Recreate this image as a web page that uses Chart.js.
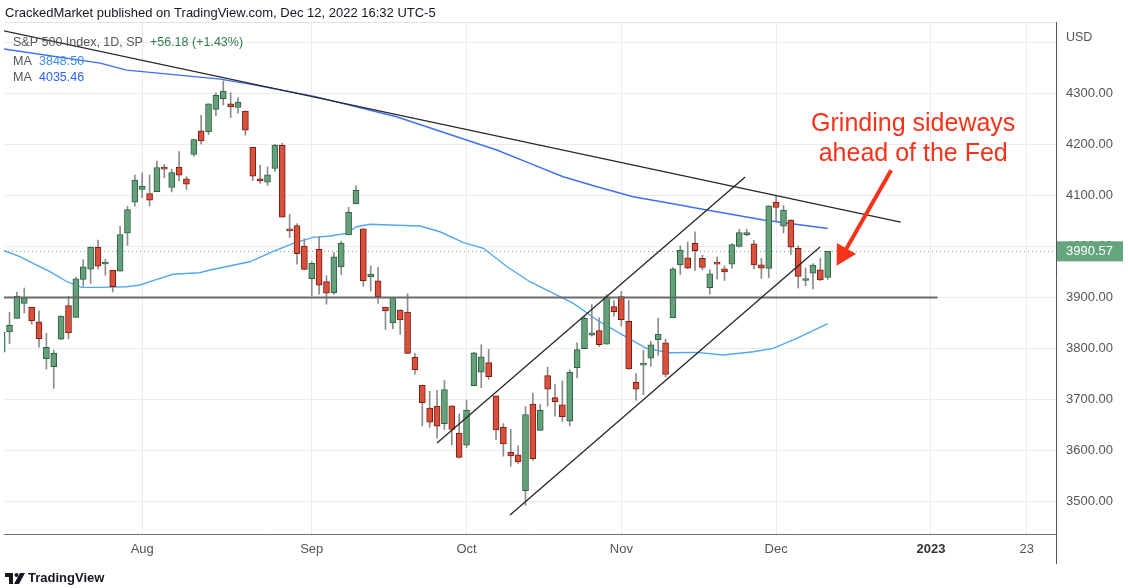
<!DOCTYPE html>
<html>
<head>
<meta charset="utf-8">
<script src="https://cdn.jsdelivr.net/npm/chart.js@4.4.0/dist/chart.umd.min.js"></script>
<style>
html, body { margin: 0; padding: 0; background: #fff; }
canvas { display: block; }
</style>
</head>
<body>
<canvas id="chart-1" width="1128" height="588"></canvas>
<script>
// trading days shown (Jul 5 - Dec 12, 2022), one candle each
const tradingDays = [
  'Jul 5','Jul 6','Jul 7','Jul 8','Jul 11','Jul 12','Jul 13','Jul 14','Jul 15','Jul 18','Jul 19','Jul 20','Jul 21','Jul 22','Jul 25','Jul 26','Jul 27','Jul 28','Jul 29',
  'Aug 1','Aug 2','Aug 3','Aug 4','Aug 5','Aug 8','Aug 9','Aug 10','Aug 11','Aug 12','Aug 15','Aug 16','Aug 17','Aug 18','Aug 19','Aug 22','Aug 23','Aug 24','Aug 25','Aug 26','Aug 29','Aug 30','Aug 31',
  'Sep 1','Sep 2','Sep 6','Sep 7','Sep 8','Sep 9','Sep 12','Sep 13','Sep 14','Sep 15','Sep 16','Sep 19','Sep 20','Sep 21','Sep 22','Sep 23','Sep 26','Sep 27','Sep 28','Sep 29','Sep 30',
  'Oct 3','Oct 4','Oct 5','Oct 6','Oct 7','Oct 10','Oct 11','Oct 12','Oct 13','Oct 14','Oct 17','Oct 18','Oct 19','Oct 20','Oct 21','Oct 24','Oct 25','Oct 26','Oct 27','Oct 28','Oct 31',
  'Nov 1','Nov 2','Nov 3','Nov 4','Nov 7','Nov 8','Nov 9','Nov 10','Nov 11','Nov 14','Nov 15','Nov 16','Nov 17','Nov 18','Nov 21','Nov 22','Nov 23','Nov 25','Nov 28','Nov 29','Nov 30',
  'Dec 1','Dec 2','Dec 5','Dec 6','Dec 7','Dec 8','Dec 9','Dec 12'
];

const opens = [
  3792.61,3831.98,3858.85,3888.26,3880.94,3851.95,3779.67,3763.99,3818.00,3883.79,3860.73,3935.32,3955.47,3998.43,3965.72,3953.22,3951.43,4026.13,4087.33,
  4112.38,4104.21,4107.96,4154.85,4115.87,4155.93,4133.11,4181.02,4227.40,4225.02,4269.37,4290.46,4280.40,4273.13,4266.31,4195.08,4133.09,4126.55,4153.26,4198.74,4034.58,4041.25,4000.67,
  3936.73,3994.66,3930.89,3909.43,3959.94,4022.94,4083.67,4034.87,3940.73,3932.41,3880.95,3849.91,3875.23,3871.40,3782.36,3727.14,3682.72,3686.44,3651.94,3687.01,3633.48,
  3609.78,3726.46,3753.25,3771.97,3706.74,3644.79,3595.86,3590.83,3520.37,3690.41,3638.65,3746.26,3703.11,3689.05,3657.10,3762.01,3799.44,3825.97,3834.69,3808.26,3881.85,
  3901.79,3852.90,3733.25,3766.98,3780.71,3817.02,3810.94,3859.89,3963.72,3977.97,4006.41,3976.82,3919.26,3966.39,3956.23,3965.51,4000.30,4023.34,4005.36,3964.19,3957.18,
  4087.14,4040.17,4052.02,3996.63,3933.28,3947.79,3954.17,3939.29
];
const highs = [
  3832.19,3870.91,3910.63,3918.50,3880.94,3873.41,3829.44,3796.41,3863.62,3902.44,3939.81,3974.13,3999.29,4012.44,3975.30,3953.22,4039.56,4078.95,4140.15,
  4144.95,4140.47,4167.66,4161.29,4151.58,4186.62,4137.30,4211.03,4257.91,4280.47,4301.79,4325.28,4302.18,4292.53,4266.31,4195.08,4159.77,4156.56,4200.54,4203.04,4062.99,4044.98,4015.37,
  3970.23,4018.43,3942.55,3987.89,4010.50,4076.81,4119.28,4034.87,3961.94,3959.14,3880.95,3900.45,3876.01,3907.07,3790.35,3727.14,3715.67,3717.53,3736.74,3687.01,3671.44,
  3698.35,3791.92,3806.91,3797.93,3706.74,3652.17,3640.66,3608.34,3685.41,3712.00,3689.73,3762.79,3728.58,3736.00,3757.89,3810.74,3862.85,3886.15,3859.95,3905.42,3893.73,
  3911.79,3894.44,3750.59,3796.34,3813.95,3859.40,3818.20,3958.79,4001.48,4008.97,4028.84,3983.09,3954.33,3979.89,3962.00,4005.88,4033.78,4034.02,4012.27,3976.77,4080.11,
  4100.51,4080.48,4052.45,4001.51,3957.57,3966.65,3977.02,3990.71
];
const lows = [
  3742.06,3809.37,3858.85,3869.34,3847.22,3802.36,3759.07,3721.56,3817.18,3818.63,3860.73,3922.03,3927.64,3955.77,3943.46,3910.74,3951.43,4002.36,4079.22,
  4096.02,4079.81,4107.96,4135.42,4107.31,4128.97,4112.09,4177.26,4201.41,4219.78,4256.90,4277.77,4253.08,4261.98,4218.70,4129.86,4124.03,4119.97,4147.59,4057.66,4017.42,3965.21,3954.53,
  3903.65,3906.21,3886.75,3906.03,3944.81,4022.94,4083.67,3921.73,3912.46,3888.28,3837.08,3838.50,3827.54,3789.49,3749.45,3647.47,3644.76,3623.29,3640.61,3610.40,3584.13,
  3604.93,3726.46,3722.66,3739.22,3620.73,3588.10,3568.45,3573.86,3491.58,3579.68,3638.65,3686.53,3666.51,3656.44,3647.42,3741.65,3799.44,3824.07,3803.79,3808.26,3863.18,
  3843.80,3758.68,3698.15,3708.84,3764.70,3786.28,3744.22,3859.89,3944.82,3956.40,3953.17,3954.34,3906.54,3935.98,3933.34,3956.88,3998.66,4020.76,3955.77,3937.65,3938.58,
  4050.87,4026.63,3984.49,3918.39,3922.68,3916.89,3933.04,3935.30
];
const closes = [
  3831.39,3845.08,3902.62,3899.38,3854.43,3818.80,3801.78,3790.38,3863.16,3830.85,3936.69,3959.90,3998.95,3961.63,3966.84,3921.05,4023.61,4072.43,4130.29,
  4118.63,4091.19,4155.17,4151.94,4145.19,4140.06,4122.47,4210.24,4207.27,4280.15,4297.14,4305.20,4274.04,4283.74,4228.48,4137.99,4128.73,4140.77,4199.12,4057.66,4030.61,3986.16,3955.00,
  3966.85,3924.26,3908.19,3979.87,4006.18,4067.36,4110.41,3932.69,3946.01,3901.35,3873.33,3899.89,3855.93,3789.93,3757.99,3693.23,3655.04,3647.29,3719.04,3640.47,3585.62,
  3678.43,3790.93,3783.28,3744.52,3639.66,3612.39,3588.84,3577.03,3669.91,3583.07,3677.95,3719.98,3695.16,3665.78,3752.75,3797.34,3859.11,3830.60,3807.30,3901.06,3871.98,
  3856.10,3759.69,3719.89,3770.55,3806.80,3828.11,3748.57,3956.37,3992.93,3957.25,3991.73,3958.79,3946.56,3965.34,3949.94,4003.58,4027.26,4026.12,3963.94,3957.63,4080.11,
  4076.57,4071.70,3998.84,3941.26,3933.92,3963.51,3934.39,3990.57
];

// moving averages: [candle index, value]
const maFast = [
  [0.25,3991.7],[2.4,3980],[4.2,3967],[6.5,3950.5],[8.8,3930.8],[10.8,3919.8],[13.3,3919.8],[16.9,3921],[18.7,3924.4],[21,3935.6],[23.2,3945.4],
  [26.8,3948.5],[28.2,3953.8],[33.6,3970],[36.7,3989.8],[39.5,4006.3],[42.2,4018],[44.5,4020.6],[46.7,4025.9],[48.1,4038.9],[49.9,4043.6],
  [52.6,4042.2],[56.7,4040.3],[59.4,4029],[62.6,4007.5],[65.3,3996.5],[68.5,3960.3],[71.6,3930.8],[74.8,3908],[77.5,3888.4],[80.7,3855.6],
  [83.8,3829.5],[87.4,3800],[90.6,3791.4],[94.2,3792.1],[97.8,3786.8],[101.9,3793.3],[104.6,3800],[107.8,3819.6],[112,3848.5]
];
const maSlow = [
  [0.25,4388.2],[13.3,4360.3],[16.9,4346.5],[29.6,4328.8],[33.6,4319],[42.2,4295.5],[53.5,4255],[63,4209.2],[67.1,4189.6],[71.6,4163.5],
  [76.1,4137.1],[80.7,4117.5],[85.6,4097.8],[90.6,4084.9],[95.6,4071.7],[103.3,4052.1],[112,4035.46]
];

// drawn lines: [candle index, price]
const trendDown = [[0.16,4424],[121.9,4048]];
const support = [[0.25,3900],[126.9,3900]];
const channelTop = [[59.0,3614],[100.8,4136.5]];
const channelBottom = [[68.9,3472.5],[110.95,3999]];

// time axis: candle index of each labelled grid line
const xTickIdx = [19, 42, 63, 84, 105, 126, 139];
const xTickLabels = ['Aug', 'Sep', 'Oct', 'Nov', 'Dec', '2023', '23'];
// price axis grid levels
const yTicks = [3500, 3600, 3700, 3800, 3900, 4000, 4100, 4200, 4300, 4400];

const upFill = '#64a17a', upLine = '#2e5f40';
const downFill = '#d9503d', downLine = '#7c1d12';
const wickColor = '#8c8c8c';
const red = '#f5321a';
const fontFamily = '"Liberation Sans", Arial, sans-serif';
Chart.defaults.font.family = fontFamily;

const isUp = opens.map((o, i) => closes[i] >= o);
const pts = arr => arr.map(p => ({x: p[0], y: p[1]}));
const lineDs = (arr, color, width, order) => ({
  type: 'line', data: pts(arr), borderColor: color, borderWidth: width,
  pointRadius: 0, fill: false, tension: 0, order: order
});

const overlay = {
  id: 'overlay',
  beforeDatasetsDraw(chart) {
    const {ctx, chartArea: a, scales: {y}} = chart;
    const py = Math.round(y.getPixelForValue(closes[closes.length - 1])) + 0.5;
    ctx.save();
    ctx.strokeStyle = '#6aa784';
    ctx.lineWidth = 1;
    ctx.setLineDash([1, 3]);
    ctx.beginPath();
    ctx.moveTo(a.left, py);
    ctx.lineTo(a.right, py);
    ctx.stroke();
    ctx.restore();
  },
  afterDraw(chart) {
    const {ctx, chartArea: a, scales: {x, y}} = chart;
    const last = closes[closes.length - 1];
    const prev = closes[closes.length - 2];
    const chg = last - prev;
    ctx.save();

    // pane top border and price-scale line into the time axis
    ctx.strokeStyle = '#e3e3e3';
    ctx.lineWidth = 1;
    ctx.beginPath(); ctx.moveTo(a.left, a.top + 0.5); ctx.lineTo(a.right, a.top + 0.5); ctx.stroke();
    ctx.strokeStyle = '#555';
    ctx.beginPath(); ctx.moveTo(a.right + 0.5, a.bottom); ctx.lineTo(a.right + 0.5, 564); ctx.stroke();

    // header
    ctx.textBaseline = 'middle';
    ctx.textAlign = 'left';
    ctx.fillStyle = '#131722';
    ctx.font = '13px ' + fontFamily;
    ctx.fillText('CrackedMarket published on TradingView.com, Dec 12, 2022 16:32 UTC-5', 5, 13);

    // legend
    ctx.font = '12.5px ' + fontFamily;
    ctx.fillStyle = '#555';
    const t1 = 'S&P 500 Index, 1D, SP';
    ctx.fillText(t1, 13, 43);
    ctx.fillStyle = '#2f7d4a';
    ctx.fillText((chg >= 0 ? '+' : '') + chg.toFixed(2) + ' (' + (chg >= 0 ? '+' : '') + (chg / prev * 100).toFixed(2) + '%)',
      13 + ctx.measureText(t1).width + 7, 43);
    ctx.fillStyle = '#555';
    ctx.fillText('MA', 13, 62);
    ctx.fillText('MA', 13, 78);
    ctx.fillStyle = '#3b8ef5';
    ctx.fillText(maFast[maFast.length - 1][1].toFixed(2), 39, 62);
    ctx.fillStyle = '#2962ff';
    ctx.fillText(maSlow[maSlow.length - 1][1].toFixed(2), 39, 78);

    // price scale header and last price tag
    ctx.fillStyle = '#555';
    ctx.font = '12.5px ' + fontFamily;
    ctx.fillText('USD', a.right + 10, 38);
    const py = y.getPixelForValue(last);
    ctx.fillStyle = '#63a57c';
    ctx.fillRect(a.right + 1, py - 10, 66, 20);
    ctx.fillStyle = '#fff';
    ctx.font = '13px ' + fontFamily;
    ctx.fillText(last.toFixed(2), a.right + 10, py + 0.5);

    // annotation
    ctx.fillStyle = red;
    ctx.textAlign = 'center';
    ctx.textBaseline = 'alphabetic';
    ctx.font = '25px ' + fontFamily;
    const tx = x.getPixelForValue(123.6);
    ctx.fillText('Grinding sideways', tx, y.getPixelForValue(4227));
    ctx.fillText('ahead of the Fed', tx, y.getPixelForValue(4168));

    // arrow
    const x0 = x.getPixelForValue(120.6), y0 = y.getPixelForValue(4150);
    const x1 = x.getPixelForValue(113.2), y1 = y.getPixelForValue(3962);
    const dx = x1 - x0, dy = y1 - y0, len = Math.hypot(dx, dy);
    const ux = dx / len, uy = dy / len;
    const bx = x1 - ux * 20, by = y1 - uy * 20;
    ctx.strokeStyle = red;
    ctx.lineWidth = 4;
    ctx.beginPath(); ctx.moveTo(x0, y0); ctx.lineTo(bx + ux * 2, by + uy * 2); ctx.stroke();
    ctx.beginPath();
    ctx.moveTo(x1, y1);
    ctx.lineTo(bx - uy * 11, by + ux * 11);
    ctx.lineTo(bx + uy * 11, by - ux * 11);
    ctx.closePath();
    ctx.fill();

    // footer logo
    ctx.fillStyle = '#131722';
    ctx.fillRect(5, 573, 8, 4);
    ctx.fillRect(9, 573, 4, 11);
    ctx.beginPath(); ctx.arc(16.5, 575, 2, 0, Math.PI * 2); ctx.fill();
    ctx.beginPath();
    ctx.moveTo(20, 573); ctx.lineTo(25, 573); ctx.lineTo(19, 584); ctx.lineTo(14, 584);
    ctx.closePath(); ctx.fill();
    ctx.textAlign = 'left';
    ctx.textBaseline = 'middle';
    ctx.font = '600 13px ' + fontFamily;
    ctx.fillText('TradingView', 28, 578.5);
    ctx.restore();
  }
};

new Chart(document.getElementById('chart-1'), {
  type: 'bar',
  data: {
    datasets: [
      lineDs(trendDown, '#262626', 1.3, 0),
      lineDs(channelTop, '#262626', 1.3, 0),
      lineDs(channelBottom, '#262626', 1.3, 0),
      lineDs(support, '#6a6a6a', 2, 0),
      {
        label: 'body',
        data: opens.map((o, i) => ({x: i, y: [o, closes[i]]})),
        backgroundColor: isUp.map(u => u ? upFill : downFill),
        borderColor: isUp.map(u => u ? upLine : downLine),
        borderWidth: 1,
        borderSkipped: false,
        barThickness: 6,
        minBarLength: 2,
        grouped: false,
        order: 1
      },
      {
        label: 'wick',
        data: lows.map((l, i) => ({x: i, y: [l, highs[i]]})),
        backgroundColor: wickColor,
        barThickness: 1,
        grouped: false,
        order: 2
      },
      lineDs(maFast, '#4fa8f4', 1.4, 3),
      lineDs(maSlow, '#3d6ff7', 1.4, 3)
    ]
  },
  options: {
    responsive: false,
    animation: false,
    layout: {padding: {left: 4, top: 22, right: 0, bottom: 0}},
    plugins: {legend: {display: false}, tooltip: {enabled: false}},
    scales: {
      x: {
        type: 'linear',
        min: 0.25,
        max: 142.97,
        offset: false,
        grid: {color: '#ececec', drawTicks: false, offset: false},
        border: {color: '#6e6e6e', width: 1},
        afterBuildTicks: s => { s.ticks = xTickIdx.map(v => ({value: v})); },
        afterFit: s => { s.height = 54; },
        ticks: {
          autoSkip: false,
          maxRotation: 0,
          padding: 8,
          color: ctx => (ctx.tick && ctx.tick.value === 126) ? '#333' : '#555',
          font: ctx => ({size: 13, weight: (ctx.tick && ctx.tick.value === 126) ? 'bold' : 'normal'}),
          callback: v => {
            const k = xTickIdx.indexOf(v);
            return k >= 0 ? xTickLabels[k] : '';
          }
        }
      },
      y: {
        position: 'right',
        min: 3435.2,
        max: 4441.1,
        beginAtZero: false,
        grid: {color: '#ececec', drawTicks: false},
        border: {color: '#555', width: 1},
        afterBuildTicks: s => { s.ticks = yTicks.map(v => ({value: v})); },
        afterFit: s => { s.width = 72; },
        ticks: {
          autoSkip: false,
          padding: 10,
          color: '#555',
          font: {size: 13},
          callback: v => v >= 4400 ? '' : v.toFixed(2)
        }
      }
    }
  },
  plugins: [overlay]
});
</script>
</body>
</html>
